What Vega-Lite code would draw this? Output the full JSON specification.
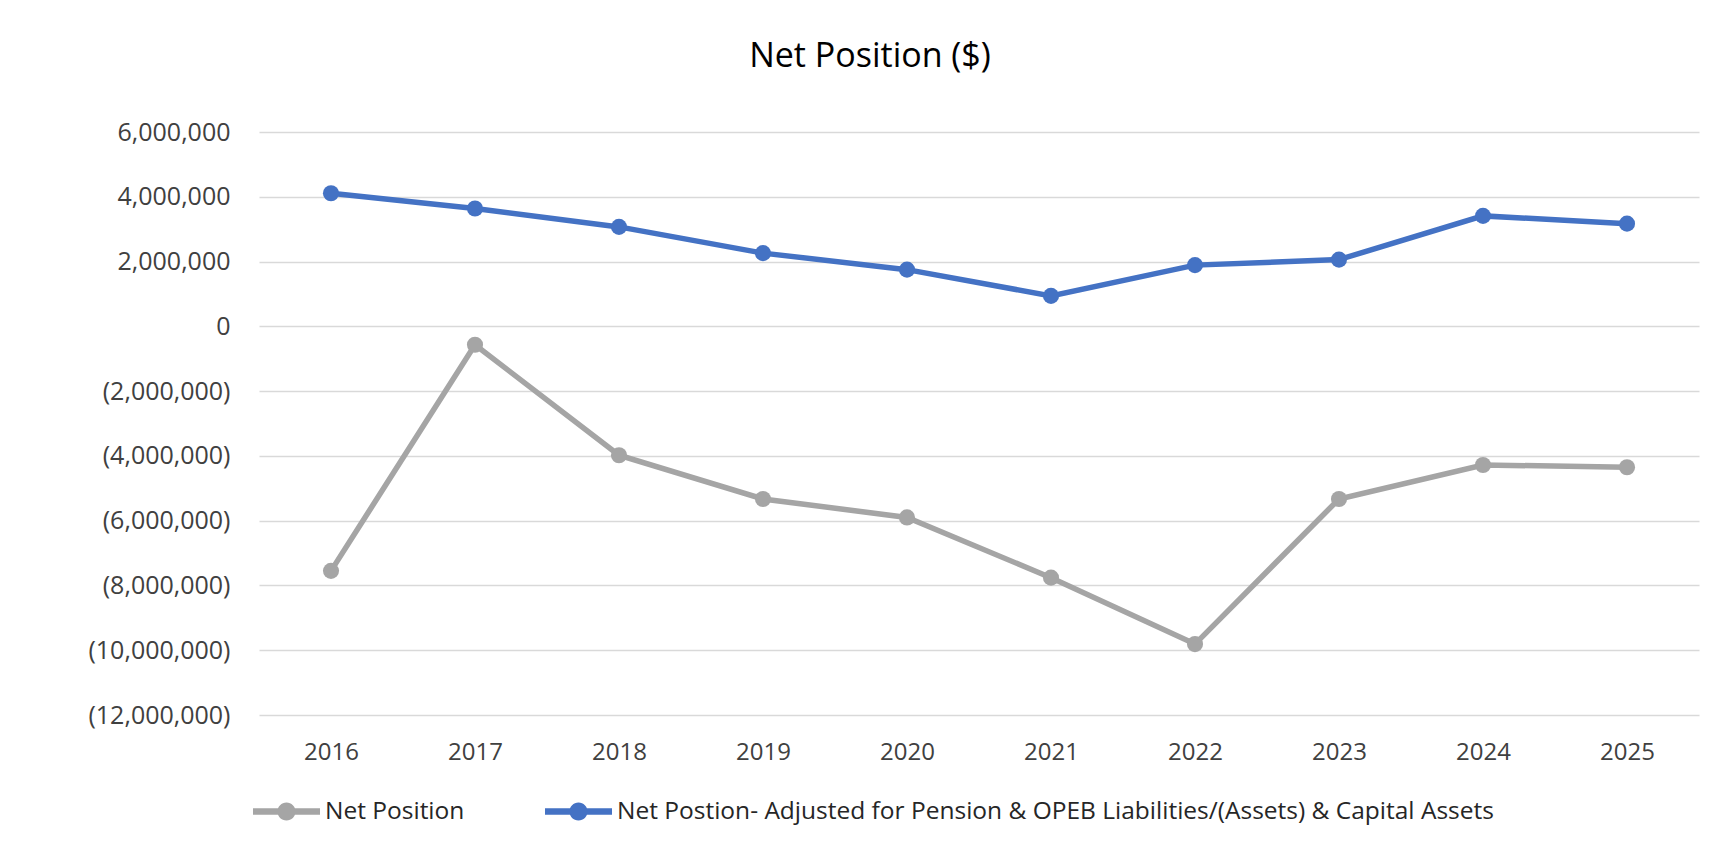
{
  "$schema": "https://vega.github.io/schema/vega-lite/v6.json",
  "width": 1440,
  "height": 583,
  "autosize": {"type": "none"},
  "padding": {"left": 259, "top": 132, "right": 12, "bottom": 137},
  "background": "white",
  "config": {"view": {"stroke": null}, "font": "Open Sans"},
  "title": {
    "text": "Net Position ($)",
    "fontSize": 34,
    "font": "Open Sans",
    "fontWeight": "normal",
    "color": "#000000",
    "anchor": "middle",
    "frame": "group",
    "dx": -109,
    "baseline": "alphabetic",
    "offset": 19
  },
  "data": {
    "values": [
      {"year": "2016", "series": "Net Position", "value": -7550000},
      {"year": "2017", "series": "Net Position", "value": -570000},
      {"year": "2018", "series": "Net Position", "value": -3980000},
      {"year": "2019", "series": "Net Position", "value": -5330000},
      {"year": "2020", "series": "Net Position", "value": -5900000},
      {"year": "2021", "series": "Net Position", "value": -7760000},
      {"year": "2022", "series": "Net Position", "value": -9810000},
      {"year": "2023", "series": "Net Position", "value": -5330000},
      {"year": "2024", "series": "Net Position", "value": -4280000},
      {"year": "2025", "series": "Net Position", "value": -4350000},
      {"year": "2016", "series": "Net Postion- Adjusted for Pension & OPEB Liabilities/(Assets) & Capital Assets", "value": 4110000},
      {"year": "2017", "series": "Net Postion- Adjusted for Pension & OPEB Liabilities/(Assets) & Capital Assets", "value": 3640000},
      {"year": "2018", "series": "Net Postion- Adjusted for Pension & OPEB Liabilities/(Assets) & Capital Assets", "value": 3070000},
      {"year": "2019", "series": "Net Postion- Adjusted for Pension & OPEB Liabilities/(Assets) & Capital Assets", "value": 2260000},
      {"year": "2020", "series": "Net Postion- Adjusted for Pension & OPEB Liabilities/(Assets) & Capital Assets", "value": 1750000},
      {"year": "2021", "series": "Net Postion- Adjusted for Pension & OPEB Liabilities/(Assets) & Capital Assets", "value": 940000},
      {"year": "2022", "series": "Net Postion- Adjusted for Pension & OPEB Liabilities/(Assets) & Capital Assets", "value": 1890000},
      {"year": "2023", "series": "Net Postion- Adjusted for Pension & OPEB Liabilities/(Assets) & Capital Assets", "value": 2060000},
      {"year": "2024", "series": "Net Postion- Adjusted for Pension & OPEB Liabilities/(Assets) & Capital Assets", "value": 3410000},
      {"year": "2025", "series": "Net Postion- Adjusted for Pension & OPEB Liabilities/(Assets) & Capital Assets", "value": 3170000}
    ]
  },
  "encoding": {
    "x": {
      "field": "year",
      "type": "ordinal",
      "scale": {"type": "point", "padding": 0.5},
      "axis": {
        "title": null,
        "domain": false,
        "ticks": false,
        "tickSize": 0,
        "grid": false,
        "labelAngle": 0,
        "labelFontSize": 24,
        "labelFont": "Open Sans",
        "labelColor": "#404040",
        "labelPadding": 25
      }
    },
    "y": {
      "field": "value",
      "type": "quantitative",
      "scale": {"domain": [-12000000, 6000000], "nice": false, "zero": false},
      "axis": {
        "title": null,
        "domain": false,
        "ticks": false,
        "tickSize": 0,
        "values": [-12000000, -10000000, -8000000, -6000000, -4000000, -2000000, 0, 2000000, 4000000, 6000000],
        "labelExpr": "datum.value < 0 ? '(' + format(-datum.value, ',') + ')' : format(datum.value, ',')",
        "labelFontSize": 25,
        "labelFont": "Open Sans",
        "labelColor": "#404040",
        "labelPadding": 29,
        "gridColor": "#D9D9D9",
        "gridWidth": 1.5
      }
    },
    "color": {
      "field": "series",
      "type": "nominal",
      "scale": {
        "domain": ["Net Position", "Net Postion- Adjusted for Pension & OPEB Liabilities/(Assets) & Capital Assets"],
        "range": ["#A5A5A5", "#4472C4"]
      },
      "legend": {
        "title": null,
        "orient": "none",
        "legendX": -6,
        "legendY": 646,
        "direction": "horizontal",
        "symbolType": "M-1,-0.1L1,-0.1L1,0.1L-1,0.1Z M-0.27,0A0.27,0.27 0 1,1 0.27,0A0.27,0.27 0 1,1 -0.27,0Z",
        "symbolSize": 4489,
        "symbolStrokeWidth": 0,
        "symbolOpacity": 1,
        "labelFontSize": 24.5,
        "labelFont": "Open Sans",
        "labelColor": "#262626",
        "labelOffset": 5,
        "labelLimit": 0,
        "columnPadding": 80,
        "encode": {
          "symbols": {
            "update": {
              "fill": {"scale": "color", "field": "value"},
              "stroke": {"scale": "color", "field": "value"},
              "strokeWidth": {"value": 0},
              "opacity": {"value": 1}
            }
          }
        }
      }
    }
  },
  "layer": [
    {"mark": {"type": "line", "strokeWidth": 5.5}},
    {"mark": {"type": "point", "filled": true, "size": 260, "opacity": 1}}
  ]
}
